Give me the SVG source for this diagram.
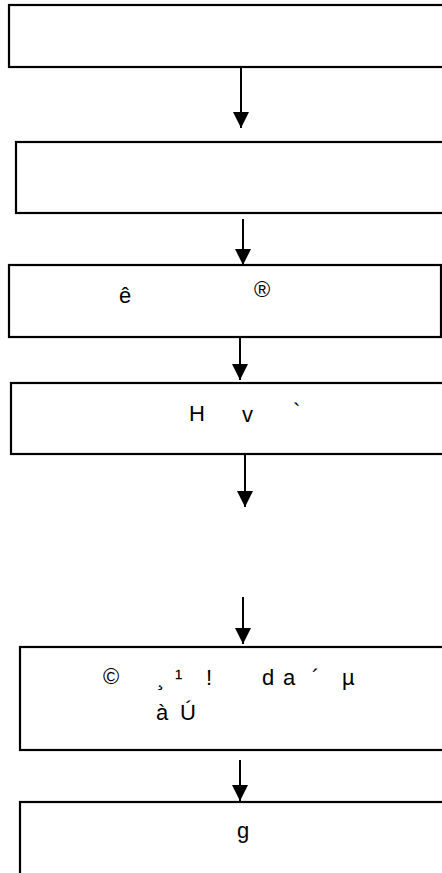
<svg xmlns="http://www.w3.org/2000/svg" width="442" height="873" viewBox="0 0 442 873">
  <style>
    .box { fill: #ffffff; stroke: #000000; stroke-width: 2.2; }
    .conn { stroke: #000000; stroke-width: 2; fill: none; }
    .t { font-family: "Liberation Sans", Arial, sans-serif; font-size: 22px; fill: #000000; }
  </style>
  <defs>
    <marker id="arrow" markerUnits="userSpaceOnUse" markerWidth="16" markerHeight="16" viewBox="0 0 10 10" refX="10" refY="5" orient="auto">
      <path d="M0,0 L10,5 L0,10 z" fill="#000000"/>
    </marker>
  </defs>
  <rect width="442" height="873" fill="#ffffff"/>

  <g id="node1">
    <rect class="box" x="9" y="5" width="445" height="62"/>
  </g>
  <g id="node2">
    <rect class="box" x="16" y="142" width="440" height="71"/>
  </g>
  <g id="node3">
    <rect class="box" x="9" y="265" width="432" height="72"/>
    <text class="t" x="119" y="303">ê</text>
    <text class="t" x="254" y="297" font-size="16">®</text>
  </g>
  <g id="node4">
    <rect class="box" x="11" y="383" width="445" height="71"/>
    <text class="t" x="189" y="421">H</text>
    <text class="t" x="242" y="422">v</text>
    <text class="t" x="293" y="419">`</text>
  </g>
  <g id="node5">
    <rect class="box" x="20" y="647" width="440" height="103"/>
    <text class="t" x="103" y="684" font-size="17">©</text>
    <text class="t" x="157" y="685">¸</text>
    <text class="t" x="175" y="685">¹</text>
    <text class="t" x="206" y="685">!</text>
    <text class="t" x="262" y="685">d</text>
    <text class="t" x="283" y="685">a</text>
    <text class="t" x="312" y="685">´</text>
    <text class="t" x="342" y="685">µ</text>
    <text class="t" x="156" y="720">à</text>
    <text class="t" x="180" y="720">Ú</text>
  </g>
  <g id="node6">
    <rect class="box" x="20" y="802" width="440" height="90"/>
    <text class="t" x="237" y="838">g</text>
  </g>

  <g id="connectors">
    <line class="conn" x1="241" y1="67" x2="241" y2="128" marker-end="url(#arrow)"/>
    <line class="conn" x1="243" y1="219" x2="243" y2="265" marker-end="url(#arrow)"/>
    <line class="conn" x1="240" y1="337" x2="240" y2="380" marker-end="url(#arrow)"/>
    <line class="conn" x1="245" y1="454" x2="245" y2="507" marker-end="url(#arrow)"/>
    <line class="conn" x1="243" y1="597" x2="243" y2="644" marker-end="url(#arrow)"/>
    <line class="conn" x1="240" y1="760" x2="240" y2="801" marker-end="url(#arrow)"/>
  </g>
</svg>
